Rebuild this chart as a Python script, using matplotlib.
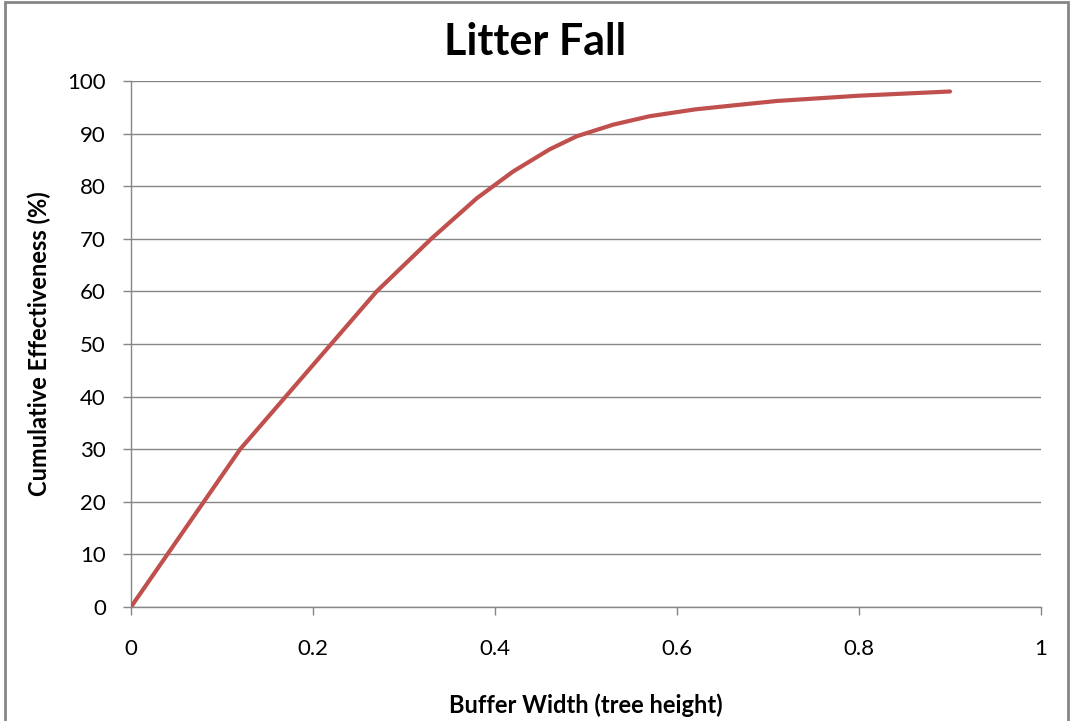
import matplotlib
matplotlib.use('Agg')
import matplotlib.pyplot as plt
from matplotlib.patches import Rectangle

# buffer width (tree heights) vs cumulative effectiveness (%)
ancho = [0, 0.04, 0.08, 0.12, 0.17, 0.22, 0.27, 0.33, 0.38, 0.42,
         0.46, 0.49, 0.53, 0.57, 0.62, 0.67, 0.71, 0.80, 0.90]
efectividad = [0, 10, 20, 30, 40, 50, 60, 70, 77.7, 82.8,
               87.0, 89.5, 91.7, 93.3, 94.6, 95.5, 96.2, 97.2, 98]
xticks = [0, 0.2, 0.4, 0.6, 0.8, 1]
yticks = list(range(0, 101, 10))

plt.rcParams['font.family'] = ['Lato', 'DejaVu Sans']

fig = plt.figure(figsize=(10.7, 7.21), dpi=100)
ax = fig.add_axes([0.1224, 0.1581, 0.8505, 0.7296])

gris = '#868686'
ax.plot(ancho, efectividad, color='#C0504D', linewidth=3,
        solid_capstyle='round', solid_joinstyle='round', zorder=3)

ax.set_xlim(0, 1)
ax.set_ylim(0, 100)
ax.set_xticks(xticks)
ax.set_xticklabels(['0', '0.2', '0.4', '0.6', '0.8', '1'])
ax.set_yticks(yticks)
ax.yaxis.grid(True, color=gris, linewidth=1)
ax.set_axisbelow(True)

for s in ['top', 'right']:
    ax.spines[s].set_visible(False)
for s in ['left', 'bottom']:
    ax.spines[s].set_color(gris)
    ax.spines[s].set_linewidth(1)
ax.tick_params(axis='both', colors=gris, length=6, width=1,
               labelsize=16, labelcolor='black')
ax.tick_params(axis='x', pad=17)
ax.tick_params(axis='y', pad=12)

fig.text(0.5, 0.942, 'Litter Fall', fontsize=31, fontweight='bold',
         ha='center', va='center')
ax.set_xlabel('Buffer Width (tree height)', fontsize=17, fontweight='bold', labelpad=25)
ax.set_ylabel('Cumulative Effectiveness (%)', fontsize=17, fontweight='bold', labelpad=12)

# chart frame
fig.patches.append(Rectangle((0.005, -0.01), 0.993, 1.007, transform=fig.transFigure,
                             fill=False, edgecolor=gris, linewidth=2))

fig.savefig('out.png', dpi=100)
